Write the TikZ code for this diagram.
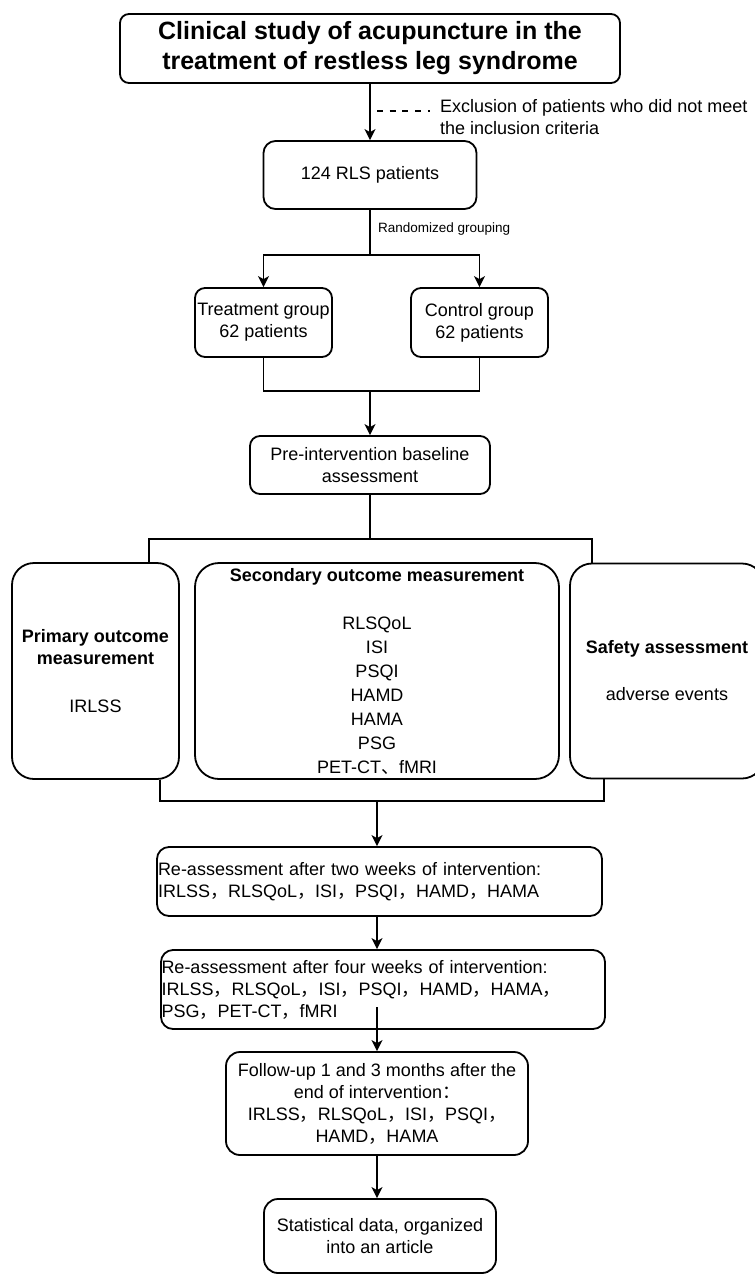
\documentclass[tikz,border=0pt]{standalone}
\usepackage{fontspec}
\setmainfont{Liberation Sans}
\newfontfamily\cjk{Noto Sans CJK SC}
\usetikzlibrary{arrows.meta}
\newcommand\zc{{\cjk ，}}
\newcommand\zd{{\cjk 、}}
\newcommand\zcolon{{\cjk ：}}
\begin{document}
\begin{tikzpicture}[x=1pt,y=-1pt,
  box/.style={draw, line width=1.8pt, rounded corners=10pt, inner sep=0pt, align=center,
    font=\fontsize{18}{22}\selectfont},
  lnk/.style={line width=1.8pt},
  arr/.style={line width=1.8pt, -{Stealth[length=11pt,width=11pt,inset=3pt]}},
  lbl/.style={inner sep=0pt, anchor=west, align=left}]
\path[use as bounding box, fill=white] (0,0) rectangle (755,1275);

% nodes
\node[box, rounded corners=9pt, minimum width=500pt, minimum height=69pt,
  font=\bfseries\fontsize{25}{30}\selectfont] (title) at (370,48.5)
  {Clinical study of acupuncture in the\\treatment of restless leg syndrome};
\node[box, rounded corners=12pt, minimum width=213pt, minimum height=68pt] (n124) at (370,175) {124 RLS patients};
\node[box, minimum width=137pt, minimum height=69pt] (treat) at (263.5,322.5) {Treatment group\\62 patients};
\node[box, minimum width=137pt, minimum height=69pt] (ctrl) at (479.5,322.5) {Control group\\62 patients};
\node[box, minimum width=240pt, minimum height=58pt] (pre) at (370,465) {Pre-intervention baseline\\assessment};

\node[box, rounded corners=22pt, minimum width=167pt, minimum height=216pt] (prim) at (95.5,671)
  {\textbf{Primary outcome}\\\textbf{measurement}\\[26pt]IRLSS};
\node[box, rounded corners=24pt, minimum width=364pt, minimum height=216pt,
  font=\fontsize{18}{24}\selectfont] (sec) at (377,671)
  {\textbf{Secondary outcome measurement}\\[24pt]RLSQoL\\ISI\\PSQI\\HAMD\\HAMA\\PSG\\PET-CT\zd fMRI};
\node[box, rounded corners=22pt, minimum width=194pt, minimum height=215pt,
  font=\fontsize{18}{23.5}\selectfont] (safe) at (667,671)
  {\textbf{Safety assessment}\\[23.5pt]adverse events};

\node[box, rounded corners=12pt, minimum width=445pt, minimum height=69pt, text width=443pt, align=left] (re2) at (379.5,881.5)
  {Re-assessment after two weeks of intervention:\\IRLSS\zc RLSQoL\zc ISI\zc PSQI\zc HAMD\zc HAMA};
\node[box, rounded corners=12pt, minimum width=444pt, minimum height=79pt, text width=443pt, align=left] (re4) at (383,989.5)
  {Re-assessment after four weeks of intervention:\\IRLSS\zc RLSQoL\zc ISI\zc PSQI\zc HAMD\zc HAMA\zc\\PSG\zc PET-CT\zc fMRI};
\node[box, rounded corners=14pt, minimum width=302pt, minimum height=103pt] (fol) at (377,1103.5)
  {Follow-up 1 and 3 months after the\\end of intervention\zcolon\\IRLSS\zc RLSQoL\zc ISI\zc PSQI\zc\\HAMD\zc HAMA};
\node[box, rounded corners=14pt, minimum width=232pt, minimum height=74pt] (stat) at (380,1236)
  {Statistical data, organized\\into an article};

\node[lbl, font=\fontsize{18}{22}\selectfont] (excl) at (440,117)
  {Exclusion of patients who did not meet\\the inclusion criteria};
\node[lbl, font=\fontsize{13.5}{16}\selectfont] (rand) at (378,229) {Randomized grouping};

% coordinates
\coordinate (exA) at (377,110.7);
\coordinate (exB) at (430,110.7);
\coordinate (j1) at (370,255);
\coordinate (j2) at (370,391);
\coordinate (j3) at (370,539);
\coordinate (j4) at (377,801);
\coordinate (s4) at (377,1007);

% connectors
\draw[arr] (title.south) -- (n124.north);
\draw[line width=1.8pt, dash pattern=on 6pt off 6.7pt] (exA) -- (exB);
\draw[lnk] (n124.south) -- (j1);
\draw[arr] (j1) -| (treat.north);
\draw[arr] (j1) -| (ctrl.north);
\draw[lnk] (treat.south) |- (j2) -| (ctrl.south);
\draw[arr] (j2) -- (pre.north);
\draw[lnk] (pre.south) -- (j3);
\draw[lnk] ([xshift=53.5pt]prim.north) |- (j3) -| ([xshift=-75pt]safe.north);
\draw[lnk] ([xshift=64.5pt]prim.south) |- (j4) -| ([xshift=-63pt]safe.south);
\draw[arr] (j4) -- (j4 |- re2.north);
\draw[arr] (re2.south -| j4) -- (re4.north -| j4);
\draw[arr] (s4) -- (fol.north -| s4);
\draw[arr] (fol.south) -- (fol.south |- stat.north);
\end{tikzpicture}
\end{document}
